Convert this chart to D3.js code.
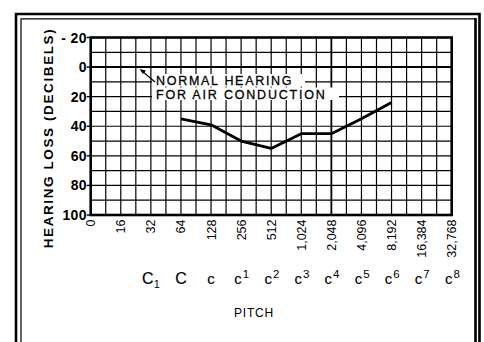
<!DOCTYPE html>
<html>
<head>
<meta charset="utf-8">
<script src="https://cdn.jsdelivr.net/npm/d3@7/dist/d3.min.js"></script>
<style>
  body { margin: 0; background: #fff; }
  svg { display: block; font-family: "Liberation Sans", Arial, sans-serif; }
</style>
</head>
<body>
<div id="chart"></div>
<script>
var width = 484,
    height = 342;

// data
var freqLabels = ["0", "16", "32", "64", "128", "256", "512", "1,024", "2,048", "4,096", "8,192", "16,384", "32,768"];
var dbTicks = [-20, 0, 20, 40, 60, 80, 100];
var lossFreqs = ["64", "128", "256", "512", "1,024", "2,048", "4,096", "8,192"];
var lossValues = [35, 39, 50, 55, 45, 45, 35, 24];
var pitchAt = ["32", "64", "128", "256", "512", "1,024", "2,048", "4,096", "8,192", "16,384", "32,768"];
var pitchBase = ["C", "C", "c", "c", "c", "c", "c", "c", "c", "c", "c"];
var pitchSub = ["1", "", "", "", "", "", "", "", "", "", ""];
var pitchSup = ["", "", "", "1", "2", "3", "4", "5", "6", "7", "8"];

var x0 = 90.7, x1 = 451.7, y0 = 37.5, y1 = 215;

var svg = d3.select("#chart").append("svg")
    .attr("width", width)
    .attr("height", height);

var x = d3.scalePoint()
    .domain(freqLabels)
    .range([x0, x1]);

// half steps for the grid columns
var xi = d3.scaleLinear()
    .domain([0, freqLabels.length - 1])
    .range([x0, x1]);

var y = d3.scaleLinear()
    .domain([-20, 100])
    .range([y0, y1]);

// double frame
var frame = svg.append("g").attr("stroke", "#000").attr("fill", "none");
frame.append("path").attr("d", "M16,342V14H479.5V342").attr("stroke-width", 2.6);
frame.append("path").attr("d", "M21,342V18.8H475.5V342").attr("stroke-width", 1.2);
frame.append("line").attr("x1", 475.5).attr("x2", 475.5).attr("y1", 18).attr("y2", 342).attr("stroke-width", 2.6);
frame.append("line").attr("x1", 479.5).attr("x2", 479.5).attr("y1", 14).attr("y2", 342).attr("stroke-width", 1.2);

// grid
var grid = svg.append("g").attr("stroke", "#000");
grid.selectAll(".vgrid")
    .data(d3.range(0, freqLabels.length - 0.9, 0.5)).enter()
    .append("line")
    .attr("class", "vgrid")
    .attr("x1", function(d) { return xi(d); })
    .attr("x2", function(d) { return xi(d); })
    .attr("y1", y0)
    .attr("y2", y1)
    .attr("stroke-width", function(d) { return d == 8 ? 1.8 : 1.2; });

grid.selectAll(".hgrid")
    .data(d3.range(-20, 101, 10)).enter()
    .append("line")
    .attr("class", "hgrid")
    .attr("x1", x0)
    .attr("x2", x1)
    .attr("y1", function(d) { return y(d); })
    .attr("y2", function(d) { return y(d); })
    .attr("stroke-width", function(d) { return d == 0 ? 2 : 1.2; });

// y ticks
grid.selectAll(".ytick")
    .data(dbTicks).enter()
    .append("line")
    .attr("x1", x0 - 4)
    .attr("x2", x0)
    .attr("y1", function(d) { return y(d); })
    .attr("y2", function(d) { return y(d); })
    .attr("stroke-width", 1.4);

// annotation
var note = svg.append("g");
note.append("rect").attr("x", 152).attr("y", 74).attr("width", 153).attr("height", 12.5).attr("fill", "#fff");
note.append("rect").attr("x", 152).attr("y", 87.5).attr("width", 187).attr("height", 12.5).attr("fill", "#fff");
note.append("line")
    .attr("x1", 155).attr("y1", 82)
    .attr("x2", 142).attr("y2", 71)
    .attr("stroke", "#000").attr("stroke-width", 1.2);
note.append("path")
    .attr("d", "M139.5,69L146,70.5L143,74Z")
    .attr("fill", "#000");
note.append("text")
    .attr("x", 156).attr("y", 85.3)
    .attr("font-size", 12.5)
    .attr("letter-spacing", 1.7)
    .attr("stroke", "#000").attr("stroke-width", 0.3)
    .text("NORMAL HEARING");
note.append("text")
    .attr("x", 156).attr("y", 99)
    .attr("font-size", 12.5)
    .attr("letter-spacing", 1.8)
    .attr("stroke", "#000").attr("stroke-width", 0.3)
    .text("FOR AIR CONDUCTION");

// plot border
svg.append("rect")
    .attr("x", x0).attr("y", y0)
    .attr("width", x1 - x0).attr("height", y1 - y0)
    .attr("fill", "none")
    .attr("stroke", "#000")
    .attr("stroke-width", 2.6);

// hearing loss line
var line = d3.line()
    .x(function(d, i) { return x(lossFreqs[i]); })
    .y(function(d) { return y(d); });

svg.append("path")
    .datum(lossValues)
    .attr("d", line)
    .attr("fill", "none")
    .attr("stroke", "#000")
    .attr("stroke-width", 2.8)
    .attr("stroke-linejoin", "round");

// y labels
svg.selectAll(".ylab")
    .data(dbTicks).enter()
    .append("text")
    .attr("x", 87)
    .attr("y", function(d) { return y(d); })
    .attr("dy", "0.36em")
    .attr("text-anchor", "end")
    .attr("font-size", 14)
    .attr("font-weight", "bold")
    .attr("letter-spacing", 0.4)
    .text(function(d) { return d < 0 ? "- " + Math.abs(d) : d; });

svg.append("text")
    .attr("transform", "translate(53,138) rotate(-90)")
    .attr("text-anchor", "middle")
    .attr("font-size", 13.5)
    .attr("font-weight", "bold")
    .attr("letter-spacing", 1.6)
    .text("HEARING LOSS (DECIBELS)");

// x labels
svg.selectAll(".xlab")
    .data(freqLabels).enter()
    .append("text")
    .attr("transform", function(d) { return "translate(" + x(d) + ",219.5) rotate(-90)"; })
    .attr("dy", "0.36em")
    .attr("text-anchor", "end")
    .attr("font-size", 12.5)
    .text(function(d) { return d; });

// pitch names
pitchAt.forEach(function(f, i) {
    var g = svg.append("g");
    var big = pitchBase[i] == "C";
    var shift = pitchSup[i] || pitchSub[i] ? 3 : 0;
    g.append("text")
        .attr("x", x(f) - shift)
        .attr("y", 284)
        .attr("text-anchor", "middle")
        .attr("font-size", big ? 16 : 15)
        .attr("stroke", "#000").attr("stroke-width", big ? 0.2 : 0.1)
        .text(pitchBase[i]);
    var right = x(f) - shift + (big ? 5.5 : 4.2);
    if (pitchSub[i]) {
        g.append("text")
            .attr("x", right + 0.5)
            .attr("y", 288)
            .attr("font-size", 11)
            .text(pitchSub[i]);
    }
    if (pitchSup[i]) {
        g.append("text")
            .attr("x", right + 0.5)
            .attr("y", 277.5)
            .attr("font-size", 11.5)
            .text(pitchSup[i]);
    }
});

svg.append("text")
    .attr("x", 254)
    .attr("y", 316.5)
    .attr("text-anchor", "middle")
    .attr("font-size", 12)
    .attr("letter-spacing", 0.8)
    .text("PITCH");
</script>
</body>
</html>
